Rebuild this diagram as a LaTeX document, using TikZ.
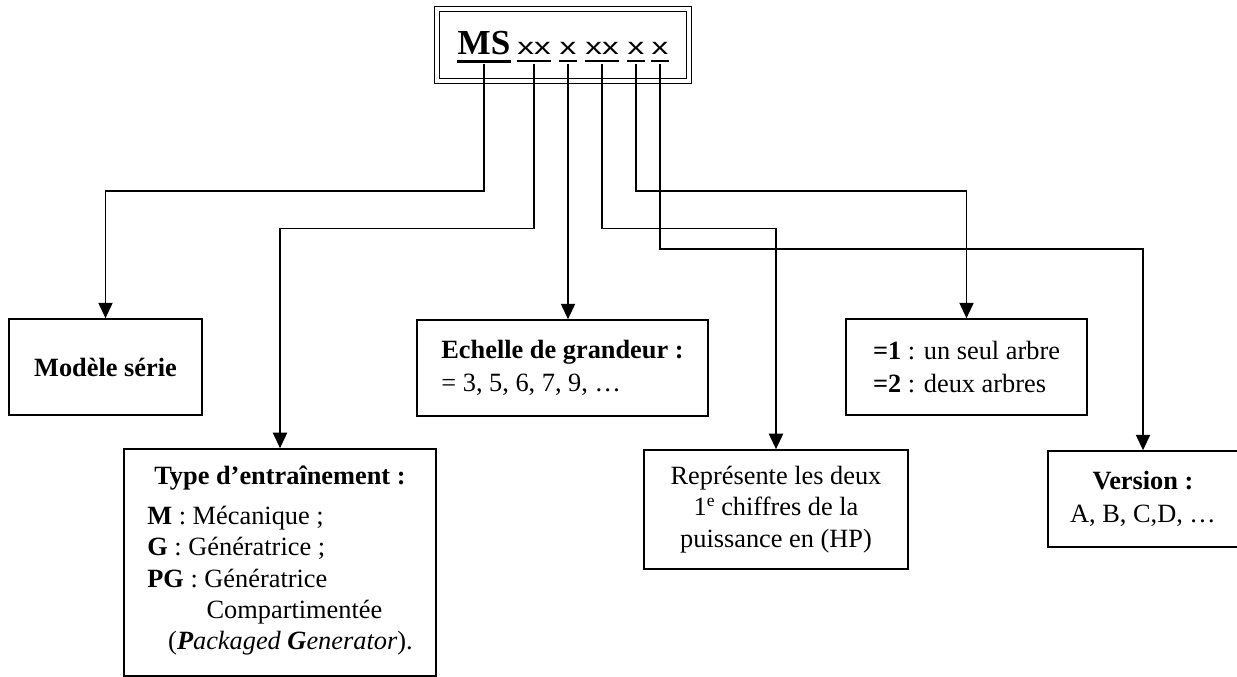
\documentclass[tikz,border=0pt]{standalone}
\usepackage{fontspec}
\setmainfont{Liberation Serif}
\newfontfamily\lettrefont{Liberation Sans}
\usetikzlibrary{arrows.meta}
\tikzset{
  boite/.style={draw, line width=0.8pt, inner sep=2pt},
  fleche/.style={-{Triangle[length=7pt,width=6.5pt]}, line width=0.6pt},
  code/.style={anchor=base, inner xsep=0pt, inner ysep=4.3pt, text depth=0pt}
}
\newcommand{\lettre}[1]{\scalebox{1.45}[1]{\lettrefont\fontsize{10.5}{12}\selectfont #1}}
\newcommand{\expo}[1]{\raisebox{0.35em}{\fontsize{8}{9}\selectfont #1}}

\begin{document}
\begin{tikzpicture}[x=0.016cm, y=-0.016cm, font=\fontsize{12}{14.3}\selectfont]
\useasboundingbox (0,0) rectangle (1237,677);

% reference du modele
\node[draw, double, double distance=1.5pt, line width=0.5pt, minimum width=114.7pt, minimum height=32.8pt] (titre) at (563,45) {};
\node[code, font=\fontsize{16}{18}\selectfont\bfseries] (ms) at (484,54.5) {MS};
\node[code] (c1) at (534,54.5) {\lettre{xx}};
\node[code] (c2) at (568,54.5) {\lettre{x}};
\node[code] (c3) at (602,54.5) {\lettre{xx}};
\node[code] (c4) at (636,54.5) {\lettre{x}};
\node[code] (c5) at (660,54.5) {\lettre{x}};
\draw[line width=1.4pt] ([yshift=1.3pt]ms.south west) -- ([yshift=1.3pt]ms.south east);
\foreach \n in {c1,c2,c3,c4,c5}
  \draw[line width=0.9pt] ([yshift=1.6pt]\n.south west) -- ([yshift=1.6pt]\n.south east);

% boites
\node[boite, minimum width=87.9pt, minimum height=43.7pt] (modele) at (105.5,367) {{\bfseries Modèle série}};
\node[boite, minimum width=142pt, minimum height=103.4pt, align=center] (type) at (280,562.5) {{\bfseries Type d’entraînement :}\\[4pt]
  \begin{tabular}[t]{@{}l@{}}
  {\bfseries M} : Mécanique ;\\
  {\bfseries G} : Génératrice ;\\
  {\bfseries PG} : Génératrice\\
  \hspace*{27pt}Compartimentée\\
  \hspace*{9.5pt}({\bfseries\itshape P}{\itshape ackaged} {\bfseries\itshape G}{\itshape enerator}).
  \end{tabular}};
\node[boite, minimum width=132.5pt, minimum height=43.7pt, align=left] (echelle) at (562.5,368) {{\bfseries Echelle de grandeur :}\\[0.7pt]= 3, 5, 6, 7, 9, …};
\node[boite, minimum width=120.2pt, minimum height=54.2pt, align=center] (repr) at (776,509.5) {Représente les deux\\1\expo{e} chiffres de la\\puissance en (HP)};
\node[boite, minimum width=109.7pt, minimum height=43.7pt, align=left] (arbres) at (966.5,367) {{\bfseries =1} : un seul arbre\\[0.7pt]{\bfseries =2} : deux arbres};
\node[boite, minimum width=86.5pt, minimum height=43.7pt, align=center] (version) at (1143,499) {{\bfseries Version :}\\[1pt]A, B, C,D, …};

% liaisons
\coordinate (h1) at (0,191);
\coordinate (h2) at (0,228.5);
\coordinate (h3) at (0,249);
\draw[fleche] (ms.south) -- (ms.south |- h1) -| (modele.north);
\draw[fleche] (c1.south) -- (c1.south |- h2) -| (type.north);
\draw[fleche] (c2.south) -- (c2.south |- echelle.north);
\draw[fleche] (c3.south) -- (c3.south |- h2) -| (repr.north);
\draw[fleche] (c4.south) -- (c4.south |- h1) -| (arbres.north);
\draw[fleche] (c5.south) -- (c5.south |- h3) -| (version.north);
\end{tikzpicture}
\end{document}
